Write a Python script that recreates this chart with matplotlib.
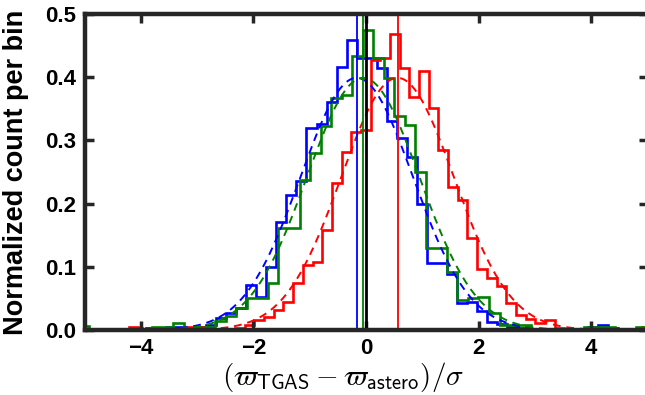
import numpy as np
import matplotlib
matplotlib.use("Agg")
import matplotlib.pyplot as plt

plt.rcParams['font.family'] = ['Liberation Sans', 'DejaVu Sans']
plt.rcParams['mathtext.fontset'] = 'cm'

# histogram bins: first edge and bin width, one value per bin
blue_edge0, blue_width = -4.984, 0.1785
blue_vals = [0, 0, 0, 0, 0, 0, 0.003, 0, 0.005, 0.005, 0.003, 0.005, 0.008,
             0.019, 0.027, 0.035, 0.071, 0.053, 0.1, 0.171, 0.214, 0.235, 0.32,
             0.326, 0.36, 0.416, 0.459, 0.43, 0.43, 0.414, 0.33, 0.304, 0.274,
             0.2, 0.106, 0.106, 0.088, 0.042, 0.045, 0.03, 0.013, 0.01, 0.005,
             0.003, 0, 0, 0, 0, 0, 0, 0.005, 0.008, 0.003, 0, 0, 0]

green_edge0, green_width = -5.108, 0.187
green_vals = [0.006, 0, 0, 0, 0, 0.003, 0, 0.004, 0.004, 0.011, 0.003, 0,
              0.005, 0.015, 0.022, 0.035, 0.05, 0.05, 0.074, 0.162, 0.162,
              0.237, 0.28, 0.322, 0.367, 0.372, 0.433, 0.474, 0.43, 0.398,
              0.338, 0.324, 0.25, 0.13, 0.13, 0.092, 0.048, 0.05, 0.052, 0.027,
              0.008, 0.008, 0.008, 0, 0, 0, 0, 0, 0.005, 0.005, 0.005, 0, 0,
              0.004]

red_edge0, red_width = -4.218, 0.172
red_vals = [0.005, 0, 0, 0, 0, 0, 0.005, 0.005, 0, 0, 0.002, 0.003, 0.008,
            0.016, 0.021, 0.032, 0.045, 0.074, 0.103, 0.107, 0.159, 0.232,
            0.282, 0.314, 0.316, 0.427, 0.431, 0.469, 0.414, 0.369, 0.41,
            0.351, 0.285, 0.227, 0.206, 0.145, 0.097, 0.082, 0.069, 0.042,
            0.024, 0.018, 0.011, 0.016, 0.003, 0.002, 0.002, 0, 0, 0, 0, 0,
            0, 0.005]

# mean offsets (vertical lines) and gaussian fit widths
blue_mean, green_mean, red_mean = -0.165, -0.05, 0.56
blue_sig, green_sig, red_sig = 1.0, 1.0, 1.0

fig = plt.figure(figsize=(6.45, 3.95), dpi=100)
ax = fig.add_axes([84.5/645, 65/395, 563/645, 316/395])

def step_hist(edge0, width, vals, color):
    edges = edge0 + width*np.arange(len(vals) + 1)
    ax.stairs(vals, edges, color=color, lw=1.9)

def gauss(mu, sig, color):
    xx = np.linspace(-5, 5, 400)
    yy = np.exp(-0.5*((xx - mu)/sig)**2) / (sig*np.sqrt(2*np.pi))
    ax.plot(xx, yy, color=color, ls=(0, (4, 3)), lw=1.4)

step_hist(blue_edge0, blue_width, blue_vals, 'blue')
step_hist(red_edge0, red_width, red_vals, 'red')
step_hist(green_edge0, green_width, green_vals, 'green')
gauss(blue_mean, blue_sig, 'blue')
gauss(red_mean, red_sig, 'red')
gauss(green_mean, green_sig, 'green')

ax.axvline(blue_mean, color='blue', lw=1.3)
ax.axvline(red_mean, color='red', lw=1.3)
ax.axvline(green_mean, color='green', lw=1.3)
ax.axvline(0, color='black', lw=2.0)

ax.set_xlim(-5, 5)
ax.set_ylim(0, 0.5)
ax.set_xticks([-4, -2, 0, 2, 4])
ax.set_yticks([0.0, 0.1, 0.2, 0.3, 0.4, 0.5])
ax.set_yticklabels(['0.0', '0.1', '0.2', '0.3', '0.4', '0.5'])
for s in ax.spines.values():
    s.set_linewidth(3.2)
    s.set_color('#262626')
ax.tick_params(direction='in', length=6.5, width=2.5, color='#262626',
               top=True, right=True, labelsize=16, pad=6)
for lab in ax.get_xticklabels() + ax.get_yticklabels():
    lab.set_fontweight('bold')
ax.set_xlabel(r'$(\varpi_{\mathsf{TGAS}} - \varpi_{\mathsf{astero}})/\sigma$',
              fontsize=21)
ax.xaxis.set_label_coords(0.459, -0.095)
ax.set_ylabel('Normalized count per bin', fontsize=19.5, fontweight='bold')
ax.yaxis.set_label_coords(-0.098, 0.5)

fig.savefig('out.png', dpi=100)
